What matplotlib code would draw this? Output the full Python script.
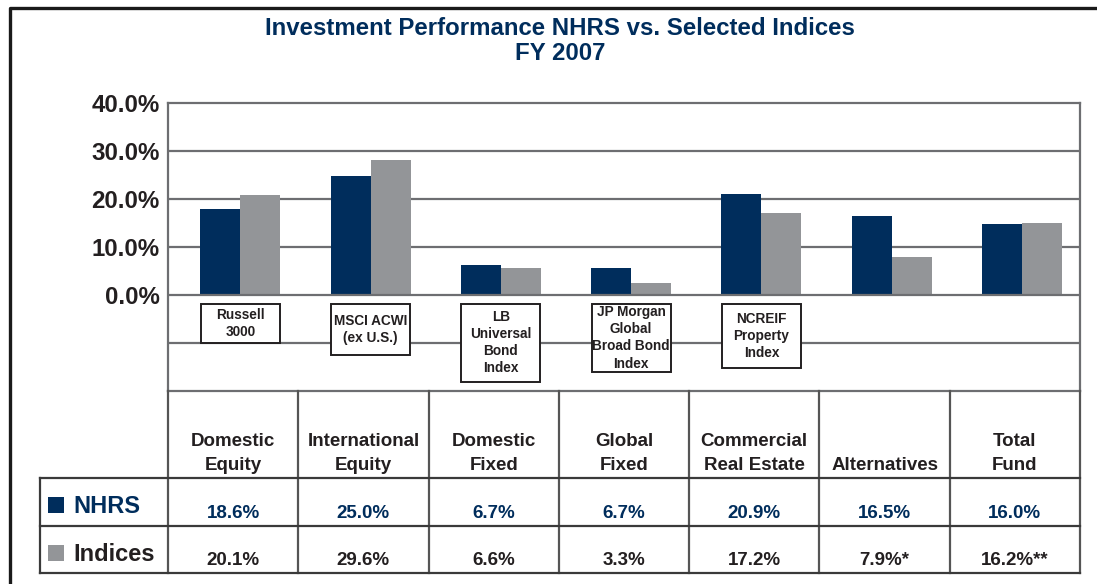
import numpy as np
import matplotlib
matplotlib.use('Agg')
import matplotlib.pyplot as plt
from matplotlib.patches import Rectangle

# data
categories = ['Domestic\nEquity', 'International\nEquity', 'Domestic\nFixed', 'Global\nFixed',
              'Commercial\nReal Estate', 'Alternatives', 'Total\nFund']
nhrs_bars = [17.9, 24.8, 6.3, 5.6, 21.0, 16.5, 14.8]
index_bars = [20.8, 28.1, 5.6, 2.5, 17.1, 7.9, 15.0]
nhrs_labels = ['18.6%', '25.0%', '6.7%', '6.7%', '20.9%', '16.5%', '16.0%']
index_labels = ['20.1%', '29.6%', '6.6%', '3.3%', '17.2%', '7.9%*', '16.2%**']
index_names = ['Russell\n3000', 'MSCI ACWI\n(ex U.S.)', 'LB\nUniversal\nBond\nIndex',
               'JP Morgan\nGlobal\nBroad Bond\nIndex', 'NCREIF\nProperty\nIndex']
yticks = [0, 10, 20, 30, 40]

# layout
box_bottom = [-9.9, -12.6, -18.1, -16.1, -15.3]
box_top = -1.8

navy = '#002d5c'
grey = '#939598'
line_c = '#6d6e71'
dark = '#231f20'
font = 'Liberation Sans'

W, H = 1097, 584
fig = plt.figure(figsize=(W/100, H/100), dpi=100)
fig.patch.set_facecolor('white')

ax = fig.add_axes([168/W, 1-391/H, 912/W, 288/H])
ax.set_xlim(0, 7)
ax.set_ylim(-20, 40)

for g in [-10, 10, 20, 30]:
    ax.axhline(g, color=line_c, lw=1.6, zorder=1)
ax.axhline(0, color=line_c, lw=1.6, zorder=4)

bw = 0.307
x = np.arange(len(categories)) + 0.555
ax.bar(x - bw/2, nhrs_bars, bw, color=navy, zorder=3)
ax.bar(x + bw/2, index_bars, bw, color=grey, zorder=3)

for i, name in enumerate(index_names):
    ax.add_patch(Rectangle((x[i] - 0.303, box_bottom[i]), 0.606, box_top - box_bottom[i],
                           facecolor='white', edgecolor=dark, lw=1.4, zorder=5))
    ax.text(x[i], (box_top + box_bottom[i])/2, name, ha='center', va='center',
            fontsize=9.8, fontweight='bold', family=font, color=dark,
            linespacing=1.28, zorder=6)

for s in ax.spines.values():
    s.set_color(line_c)
    s.set_linewidth(1.6)
ax.set_xticks([])
ax.set_yticks(yticks)
ax.set_yticklabels(['{:.1f}%'.format(v) for v in yticks], fontsize=17.3,
                   fontweight='bold', family=font, color=dark)
ax.tick_params(axis='y', length=0, pad=6)

# overlay in pixel coordinates for table and frame
ov = fig.add_axes([0, 0, 1, 1], zorder=10)
ov.set_xlim(0, W)
ov.set_ylim(H, 0)
ov.axis('off')

ov.plot([9.5, 9.5, W], [H, 8, 8], color='#1a1a1a', lw=2.4, solid_capstyle='projecting')

ov.text(560, 35, 'Investment Performance NHRS vs. Selected Indices', ha='center', va='baseline',
        fontsize=17.3, fontweight='bold', family=font, color=navy)
ov.text(560, 60, 'FY 2007', ha='center', va='baseline',
        fontsize=17.3, fontweight='bold', family=font, color=navy)

col_w = 912/7
cols = [168 + col_w*k for k in range(8)]
for cx in cols:
    ov.plot([cx, cx], [391, 573], color='#555555', lw=1.6)
for ry in [478, 526, 573]:
    ov.plot([40, 1080], [ry, ry], color='#3a3a3a', lw=1.6)
ov.plot([40, 40], [478, 573], color='#3a3a3a', lw=1.6)

for i, cat in enumerate(categories):
    cx = (cols[i] + cols[i+1])/2
    ov.text(cx, 474, cat, ha='center', va='bottom', fontsize=13.5, fontweight='bold',
            family=font, color=dark, linespacing=1.5)
    ov.text(cx, 518, nhrs_labels[i], ha='center', va='baseline', fontsize=13.5,
            fontweight='bold', family=font, color=navy)
    ov.text(cx, 565, index_labels[i], ha='center', va='baseline', fontsize=13.5,
            fontweight='bold', family=font, color=dark)

ov.add_patch(Rectangle((48, 497), 16, 16, facecolor=navy, edgecolor='none'))
ov.add_patch(Rectangle((48, 545), 16, 16, facecolor=grey, edgecolor='none'))
ov.text(73, 513, 'NHRS', ha='left', va='baseline', fontsize=17, fontweight='bold',
        family=font, color=navy)
ov.text(73, 561, 'Indices', ha='left', va='baseline', fontsize=17, fontweight='bold',
        family=font, color=dark)

fig.savefig('out.png', dpi=100)
